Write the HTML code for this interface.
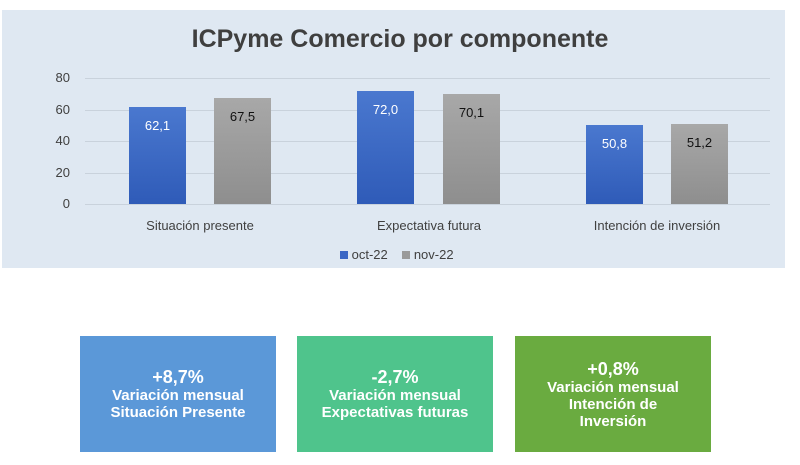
<!DOCTYPE html>
<html><head><meta charset="utf-8"><style>
body{margin:0;width:800px;height:465px;background:#fff;font-family:"Liberation Sans",sans-serif;position:relative;overflow:hidden}
.p{position:absolute;left:2px;top:10px;width:783px;height:258px;background:#dfe8f2}
.t{position:absolute;left:0;width:800px;top:25px;text-align:center;font-size:25px;font-weight:bold;color:#3f3f3f}
.g{position:absolute;left:85px;width:685px;height:1px;background:#c9d2dc}
.yl{position:absolute;left:40px;width:30px;text-align:right;font-size:13px;color:#404040}
.b{position:absolute;width:57px;font-size:13px;text-align:center;box-sizing:border-box;padding-top:11px}
.bl{background:linear-gradient(#4a78cf,#2f5bb8);color:#fff}
.gr{background:linear-gradient(#a8a8a8,#8e8e8e);color:#111}
.xl{position:absolute;top:218px;font-size:13px;color:#404040;text-align:center;width:200px}
.k{position:absolute;top:336px;width:196px;height:116px;color:#fff;font-weight:bold;text-align:center;display:flex;flex-direction:column;justify-content:center;font-size:15px;line-height:17px}
.k b{font-size:18px;line-height:20px}
</style></head><body>
<div class="p"></div>
<div class="t">ICPyme Comercio por componente</div>
<div class="g" style="top:78px"></div><div class="g" style="top:110px"></div><div class="g" style="top:141px"></div><div class="g" style="top:173px"></div><div class="g" style="top:204px"></div>
<div class="yl" style="top:70px">80</div><div class="yl" style="top:102px">60</div><div class="yl" style="top:133px">40</div><div class="yl" style="top:165px">20</div><div class="yl" style="top:196px">0</div>
<div class="b bl" style="left:129px;top:107px;height:97px">62,1</div>
<div class="b gr" style="left:214px;top:98px;height:106px">67,5</div>
<div class="b bl" style="left:357px;top:91px;height:113px">72,0</div>
<div class="b gr" style="left:443px;top:94px;height:110px">70,1</div>
<div class="b bl" style="left:586px;top:125px;height:79px">50,8</div>
<div class="b gr" style="left:671px;top:124px;height:80px">51,2</div>
<div class="xl" style="left:100px">Situación presente</div>
<div class="xl" style="left:329px">Expectativa futura</div>
<div class="xl" style="left:557px">Intención de inversión</div>
<div style="position:absolute;top:247px;left:340px;font-size:13px;color:#404040"><span style="display:inline-block;width:8px;height:8px;background:#3a66c4"></span>&nbsp;oct-22&nbsp;&nbsp;&nbsp;&nbsp;<span style="display:inline-block;width:8px;height:8px;background:#9a9a9a"></span>&nbsp;nov-22</div>
<div class="k" style="left:80px;background:#5b98d8"><b>+8,7%</b>Variación mensual<br>Situación Presente</div>
<div class="k" style="left:297px;background:#4fc48c"><b>-2,7%</b>Variación mensual<br>Expectativas futuras</div>
<div class="k" style="left:515px;background:#6aab40"><b>+0,8%</b>Variación mensual<br>Intención de<br>Inversión</div>
</body></html>
